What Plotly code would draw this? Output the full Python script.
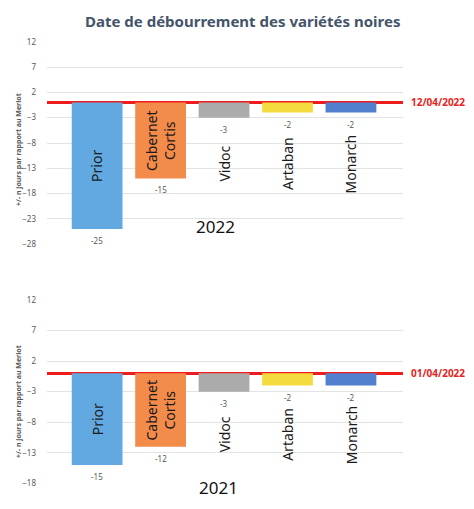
import plotly.graph_objects as go

varieties = ["Prior", "Cabernet<br>Cortis", "Vidoc", "Artaban", "Monarch"]
values_2022 = [-25, -15, -3, -2, -2]
values_2021 = [-15, -12, -3, -2, -2]
colors = ["#62a9e1", "#f38b4b", "#ababab", "#f4dc3e", "#5280ce"]
ticks_2022 = [12, 7, 2, -3, -8, -13, -18, -23, -28]
ticks_2021 = [12, 7, 2, -3, -8, -13, -18]
ref_2022 = "12/04/2022"
ref_2021 = "01/04/2022"

# page body has an 8px margin: figure placed at (8, 8) in the window
OFF = 8
W, H = 474 - 2 * OFF, 509 - 2 * OFF
FONT = "Noto Sans"


def px_x(x):
    return (x - OFF) / W


def px_y(y):
    return 1 - (y - OFF) / H


fig = go.Figure()
xpos = list(range(len(varieties)))

panels = [
    ("x", "y", values_2022, ticks_2022, ref_2022),
    ("x2", "y2", values_2021, ticks_2021, ref_2021),
]

for xa, ya, vals, ticks, ref in panels:
    fig.add_trace(go.Bar(
        x=xpos, y=vals, xaxis=xa, yaxis=ya, width=0.8,
        marker=dict(color=colors, line=dict(width=0)),
        showlegend=False, hoverinfo="skip",
    ))
    for i, (name, v) in enumerate(zip(varieties, vals)):
        fig.add_annotation(x=i, y=v, xref=xa, yref=ya, text=str(v),
                           showarrow=False, xanchor="center", yanchor="top",
                           yshift=-4,
                           font=dict(size=8, color="#595959", family=FONT))
        if abs(v) >= 10:
            fig.add_annotation(x=i, y=v / 2, xref=xa, yref=ya, text=name,
                               showarrow=False, textangle=-90,
                               xanchor="center", yanchor="middle",
                               font=dict(size=14, color="#1a1a1a", family=FONT))
        else:
            fig.add_annotation(x=i, y=0, xref=xa, yref=ya, text=name,
                               showarrow=False, textangle=-90,
                               xanchor="center", yanchor="middle", yshift=-61,
                               font=dict(size=14, color="#1a1a1a", family=FONT))
    fig.add_annotation(x=px_x(409), xref="paper", y=0, yref=ya,
                       text="<b>" + ref + "</b>",
                       showarrow=False, xanchor="left", yanchor="middle",
                       font=dict(size=10, color="#e52421", family=FONT))

axis_common = dict(showline=False, zeroline=True, zerolinecolor="#ee1c1c",
                   zerolinewidth=3, showgrid=True, gridcolor="#e3e3e3",
                   gridwidth=1, tickfont=dict(size=8, color="#595959", family=FONT),
                   ticks="", automargin=False, ticklabelstandoff=10)

x_dom = [px_x(47), px_x(403)]
xaxis_common = dict(domain=x_dom, range=[-0.79, 4.82], showticklabels=False,
                    showgrid=False, zeroline=False, showline=False,
                    automargin=False, fixedrange=True)
fig.update_layout(
    width=W, height=H,
    margin=dict(l=0, r=0, t=0, b=0),
    paper_bgcolor="white", plot_bgcolor="white",
    xaxis=dict(anchor="y", **xaxis_common),
    xaxis2=dict(anchor="y2", **xaxis_common),
    yaxis=dict(anchor="x", domain=[px_y(244.3), px_y(41.7)], range=[-28, 12],
               tickvals=ticks_2022, **axis_common),
    yaxis2=dict(anchor="x2", domain=[px_y(483.3), px_y(300)], range=[-18, 12],
                tickvals=ticks_2021, **axis_common),
)

fig.add_annotation(x=px_x(242), y=px_y(9), xref="paper", yref="paper",
                   text="<b>Date de débourrement des variétés noires</b>",
                   showarrow=False, xanchor="center", yanchor="top",
                   font=dict(size=15, color="#44546a", family=FONT))
fig.add_annotation(x=px_x(215), y=px_y(226), xref="paper", yref="paper",
                   text="2022", showarrow=False,
                   xanchor="center", yanchor="middle",
                   font=dict(size=17, color="#111111", family=FONT))
fig.add_annotation(x=px_x(218), y=px_y(500.5), xref="paper", yref="paper",
                   text="2021", showarrow=False,
                   xanchor="center", yanchor="bottom",
                   font=dict(size=17, color="#111111", family=FONT))

for yc in (150, 402):
    fig.add_annotation(x=px_x(18), y=px_y(yc), xref="paper", yref="paper",
                       text="<b>+/- n jours par rapport au Merlot</b>",
                       showarrow=False, textangle=-90,
                       xanchor="center", yanchor="middle",
                       font=dict(size=7, color="#595959", family=FONT))

fig.write_html("out.html")
